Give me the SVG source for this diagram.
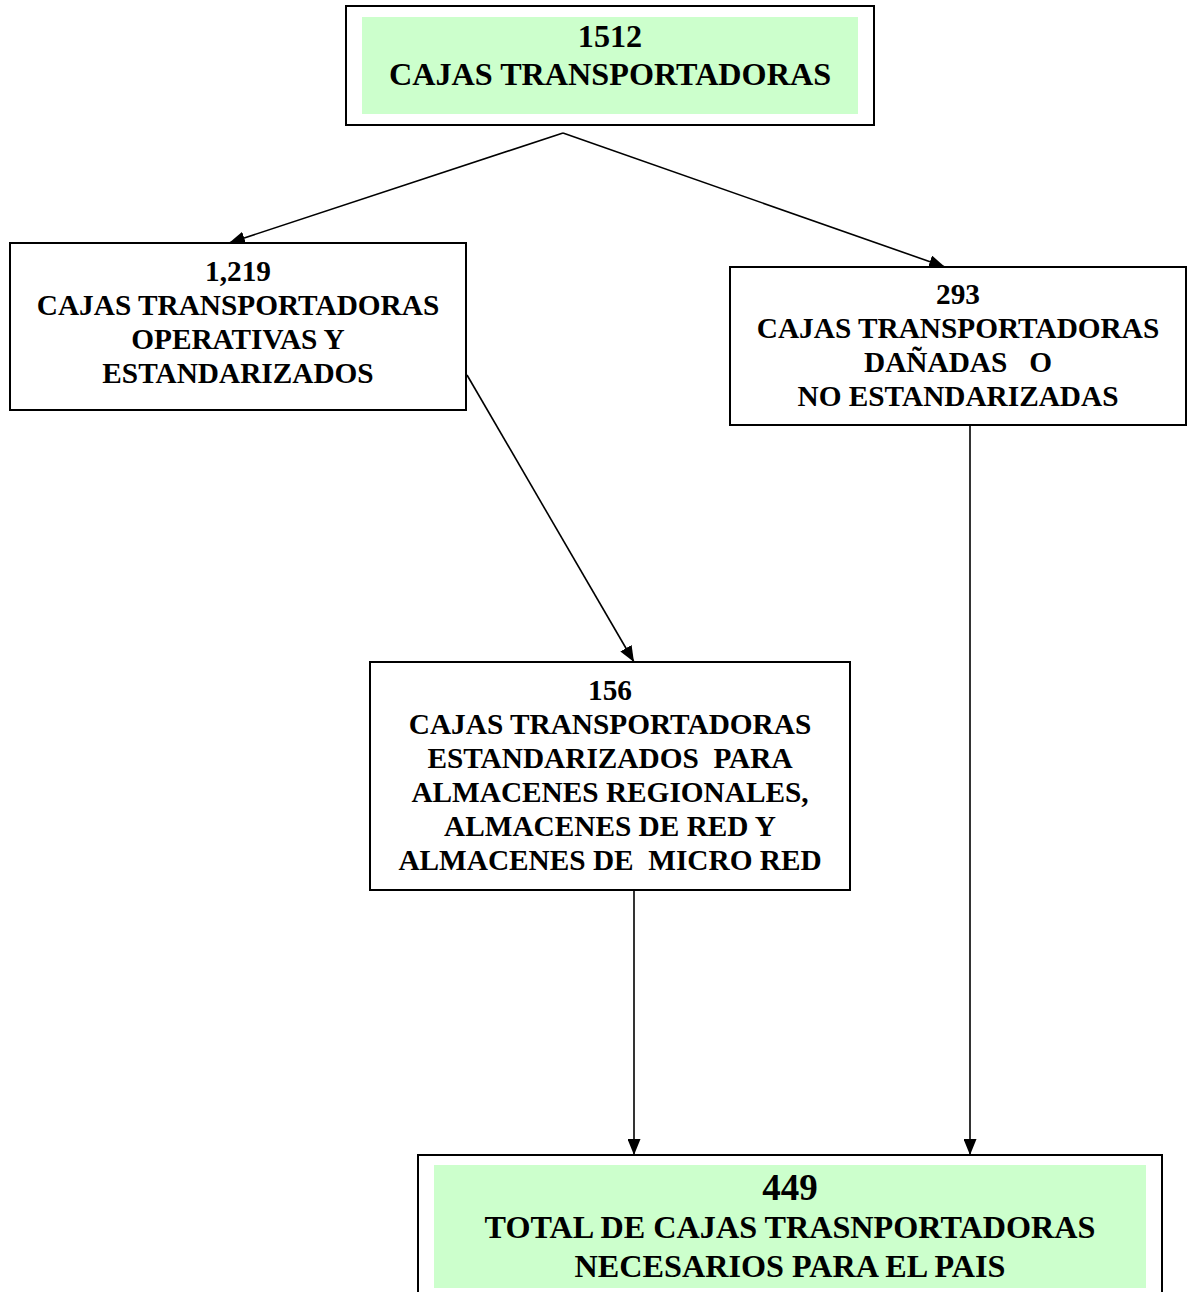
<svg xmlns="http://www.w3.org/2000/svg" width="1187" height="1292" viewBox="0 0 1187 1292">
<style>
.box{fill:#fff;stroke:#000;stroke-width:2}
.green{fill:#ccffcc;stroke:none}
.t{font-family:"Liberation Serif","Times New Roman",serif;font-weight:bold;text-anchor:middle;fill:#000;white-space:pre}
.s29{font-size:29.3px}
.s32{font-size:32.2px}
.s36{font-size:37px}
.edge{fill:none;stroke:#000;stroke-width:1.6}
</style>
<defs>
<marker id="arr" markerUnits="userSpaceOnUse" markerWidth="17" markerHeight="13" refX="16" refY="6.5" orient="auto">
<path d="M0,0 L16,6.5 L0,13 Z" fill="#000"/>
</marker>
</defs>
<g id="connectors">
<path class="edge" d="M563,133 L229,243" marker-end="url(#arr)"/>
<path class="edge" d="M563,133 L945,267" marker-end="url(#arr)"/>
<path class="edge" d="M467,375 L634,662" marker-end="url(#arr)"/>
<path class="edge" d="M634,891 L634,1155" marker-end="url(#arr)"/>
<path class="edge" d="M970,425 L970,1155" marker-end="url(#arr)"/>
</g>
<g id="node-total">
<rect class="box" x="346" y="6" width="528" height="119"/>
<rect class="green" x="362" y="17" width="496" height="97"/>
<text class="t s32" x="610" y="47">1512</text>
<text class="t s32" x="610" y="85">CAJAS TRANSPORTADORAS</text>
</g>
<g id="node-operativas">
<rect class="box" x="10" y="243" width="456" height="167"/>
<text class="t s29" x="238" y="281">1,219</text>
<text class="t s29" x="238" y="315">CAJAS TRANSPORTADORAS</text>
<text class="t s29" x="238" y="349">OPERATIVAS Y</text>
<text class="t s29" x="238" y="383">ESTANDARIZADOS</text>
</g>
<g id="node-danadas">
<rect class="box" x="730" y="267" width="456" height="158"/>
<text class="t s29" x="958" y="304">293</text>
<text class="t s29" x="958" y="338">CAJAS TRANSPORTADORAS</text>
<text class="t s29" x="958" y="372">DAÑADAS   O</text>
<text class="t s29" x="958" y="406">NO ESTANDARIZADAS</text>
</g>
<g id="node-almacenes">
<rect class="box" x="370" y="662" width="480" height="228"/>
<text class="t s29" x="610" y="700">156</text>
<text class="t s29" x="610" y="734">CAJAS TRANSPORTADORAS</text>
<text class="t s29" x="610" y="768">ESTANDARIZADOS  PARA</text>
<text class="t s29" x="610" y="802">ALMACENES REGIONALES,</text>
<text class="t s29" x="610" y="836">ALMACENES DE RED Y</text>
<text class="t s29" x="610" y="870">ALMACENES DE  MICRO RED</text>
</g>
<g id="node-necesarios">
<rect class="box" x="418" y="1155" width="744" height="150"/>
<rect class="green" x="434" y="1165" width="712" height="123"/>
<text class="t s36" x="790" y="1200">449</text>
<text class="t s32" x="790" y="1238">TOTAL DE CAJAS TRASNPORTADORAS</text>
<text class="t s32" x="790" y="1277">NECESARIOS PARA EL PAIS</text>
</g>
</svg>
